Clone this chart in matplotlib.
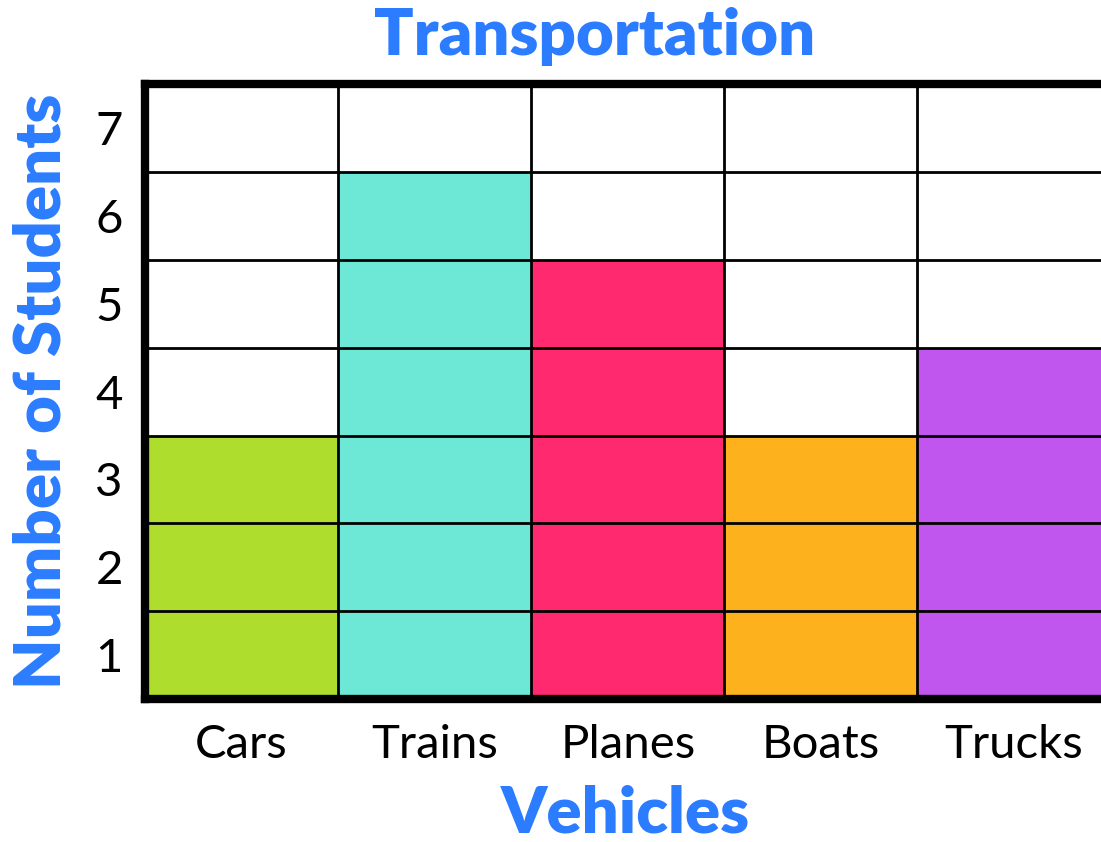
import numpy as np
import matplotlib.pyplot as plt

OUT_PNG = "out.png"

vehicles = ["Cars", "Trains", "Planes", "Boats", "Trucks"]
students = [3, 6, 5, 3, 4]
colors = ["#AEDD2E", "#6EE8D6", "#FF2970", "#FDB11D", "#C156EF"]
y_ticks = [1, 2, 3, 4, 5, 6, 7]

BLUE = "#2B7CFF"
Y_MAX = 7

plt.rcParams["font.family"] = ["Lato", "DejaVu Sans"]

fig = plt.figure(figsize=(11.01, 8.42), dpi=100)
ax = fig.add_axes([0.1317, 0.1698, 0.877, 0.7302])

x = np.arange(len(vehicles))
ax.bar(x, students, width=1.0, color=colors, edgecolor="none", zorder=1)

# grid lines on top of the bars
for yy in range(1, Y_MAX):
    ax.axhline(yy, color="black", linewidth=2.0, zorder=2)
for xx in x[:-1]:
    ax.axvline(xx + 0.5, color="black", linewidth=2.0, zorder=2)

ax.set_xlim(-0.5, len(vehicles) - 0.5)
ax.set_ylim(0, Y_MAX)

for side in ["left", "bottom", "top"]:
    ax.spines[side].set_linewidth(6)
    ax.spines[side].set_zorder(3)
ax.spines["right"].set_visible(False)

ax.set_xticks(x)
ax.set_xticklabels(vehicles, fontsize=34, fontweight="normal")
ax.set_yticks([t - 0.5 for t in y_ticks])
ax.set_yticklabels([str(t) for t in y_ticks], fontsize=34, fontweight="normal")
ax.tick_params(length=0)
ax.tick_params(axis="x", pad=18)
ax.tick_params(axis="y", pad=16)

fig.text(0.54, 0.957, "Transportation", color=BLUE, fontsize=47,
         fontweight="heavy", ha="center", va="center")
fig.text(0.568, 0.033, "Vehicles", color=BLUE, fontsize=47,
         fontweight="heavy", ha="center", va="center")
fig.text(0.038, 0.535, "Number of Students", color=BLUE, fontsize=47,
         fontweight="heavy", ha="center", va="center", rotation=90)

plt.savefig(OUT_PNG, dpi=100)
plt.close(fig)
